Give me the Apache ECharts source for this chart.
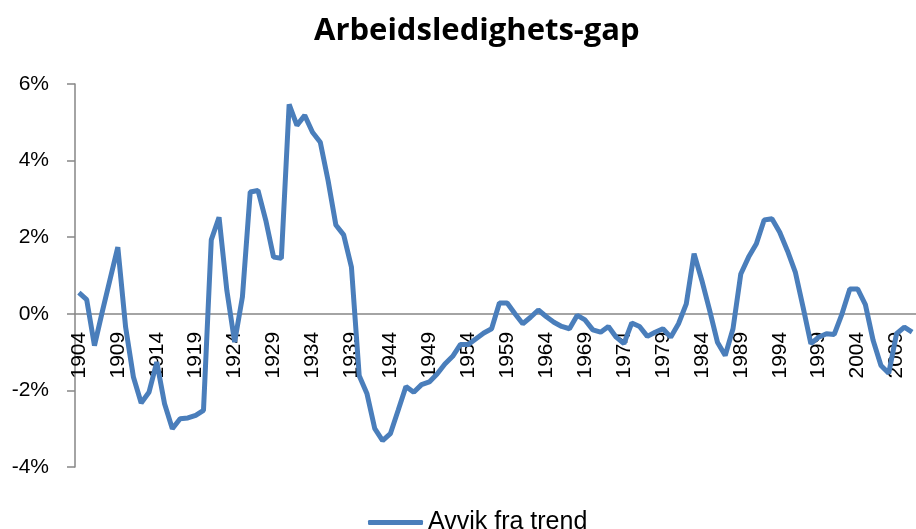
<!DOCTYPE html>
<html>
<head>
<meta charset="utf-8">
<script src="https://cdn.jsdelivr.net/npm/echarts@6/dist/echarts.min.js"></script>
<style>
	html, body { margin: 0; padding: 0; background: #fff; }
	#chart { width: 916px; height: 529px; }
</style>
</head>
<body>
<div id="chart"></div>
<script>
const startYear = 1904
const endYear = 2011
const years = []
for (let y = startYear; y <= endYear; y++) years.push(String(y))

// Avvik fra trend, prosent (1904–2011)
const gap1904to1939 = [
	0.55, 0.37, -0.83, 0.05, 0.9, 1.74, -0.35, -1.65, -2.33, -2.05,
	-1.26, -2.35, -3.0, -2.74, -2.72, -2.65, -2.52, 1.93, 2.52, 0.61,
	-0.74, 0.44, 3.18, 3.22, 2.44, 1.48, 1.45, 5.47, 4.92, 5.18,
	4.74, 4.48, 3.48, 2.32, 2.06, 1.22
]
const gap1940to1974 = [
	-1.62, -2.09, -3.0, -3.31, -3.13, -2.52, -1.9, -2.05, -1.85, -1.78,
	-1.57, -1.31, -1.11, -0.8, -0.8, -0.65, -0.5, -0.39, 0.28, 0.28,
	0.0, -0.26, -0.09, 0.1, -0.07, -0.22, -0.33, -0.39, -0.04, -0.16,
	-0.42, -0.48, -0.33, -0.61, -0.78
]
const gap1975to2011 = [
	-0.24, -0.33, -0.59, -0.48, -0.39, -0.61, -0.26, 0.26, 1.57, 0.87,
	0.09, -0.74, -1.09, -0.39, 1.04, 1.48, 1.83, 2.45, 2.48, 2.13,
	1.64, 1.09, 0.17, -0.78, -0.61, -0.52, -0.54, 0.0, 0.65, 0.65,
	0.24, -0.7, -1.35, -1.55, -0.52, -0.35, -0.48
]
const gapValues = gap1904to1939.concat(gap1940to1974, gap1975to2011)

const yMin = -4
const yMax = 6
const yStep = 2

const chartDom = document.getElementById('chart')
const myChart = echarts.init(chartDom)

const axisGray = '#868686'
const lineBlue = '#4a7ebb'
const gridTop = 84
const gridBottom = 62
const gridHeight = 529 - gridTop - gridBottom
// move the category axis (line, ticks and labels) up to the 0 line
const zeroOffset = -gridHeight * (0 - yMin) / (yMax - yMin)

const option = {
	animation: false,
	title: {
		text: 'Arbeidsledighets-gap',
		left: 309,
		top: 11,
		textStyle: {
			fontFamily: 'Open Sans',
			fontWeight: 'bold',
			fontSize: 31,
			color: '#000',
		},
	},
	legend: {
		data: ['Avvik fra trend'],
		top: 505,
		left: 363,
		icon: 'roundRect',
		itemWidth: 55,
		itemHeight: 5,
		itemGap: 4,
		itemStyle: { color: lineBlue },
		textStyle: {
			fontFamily: 'Liberation Sans',
			fontSize: 25,
			color: '#000',
		},
	},
	grid: {
		left: 75,
		top: gridTop,
		bottom: gridBottom,
		right: -7,
		containLabel: false,
	},
	xAxis: {
		type: 'category',
		data: years,
		boundaryGap: true,
		offset: zeroOffset,
		z: 0,
		axisLine: { onZero: false, lineStyle: { color: axisGray, width: 1.5 } },
		axisTick: { interval: 4, length: 7, lineStyle: { color: axisGray, width: 1.5 } },
		axisLabel: {
			interval: 4,
			rotate: 90,
			margin: 18,
			fontFamily: 'Liberation Sans',
			fontSize: 21,
			color: '#000',
		},
		splitLine: { show: false },
	},
	yAxis: {
		type: 'value',
		min: yMin,
		max: yMax,
		interval: yStep,
		axisLine: { show: true, lineStyle: { color: axisGray, width: 1.5 } },
		axisTick: { show: true, length: 8, lineStyle: { color: axisGray, width: 1.5 } },
		axisLabel: {
			formatter: '{value}%',
			margin: 26,
			fontFamily: 'Liberation Sans',
			fontSize: 21,
			color: '#000',
		},
		splitLine: { show: false },
	},
	series: [
		{
			name: 'Avvik fra trend',
			type: 'line',
			z: 5,
			data: gapValues,
			symbol: 'none',
			lineStyle: { color: lineBlue, width: 5 },
			itemStyle: { color: lineBlue },
		},
	],
}

myChart.setOption(option)
</script>
</body>
</html>
